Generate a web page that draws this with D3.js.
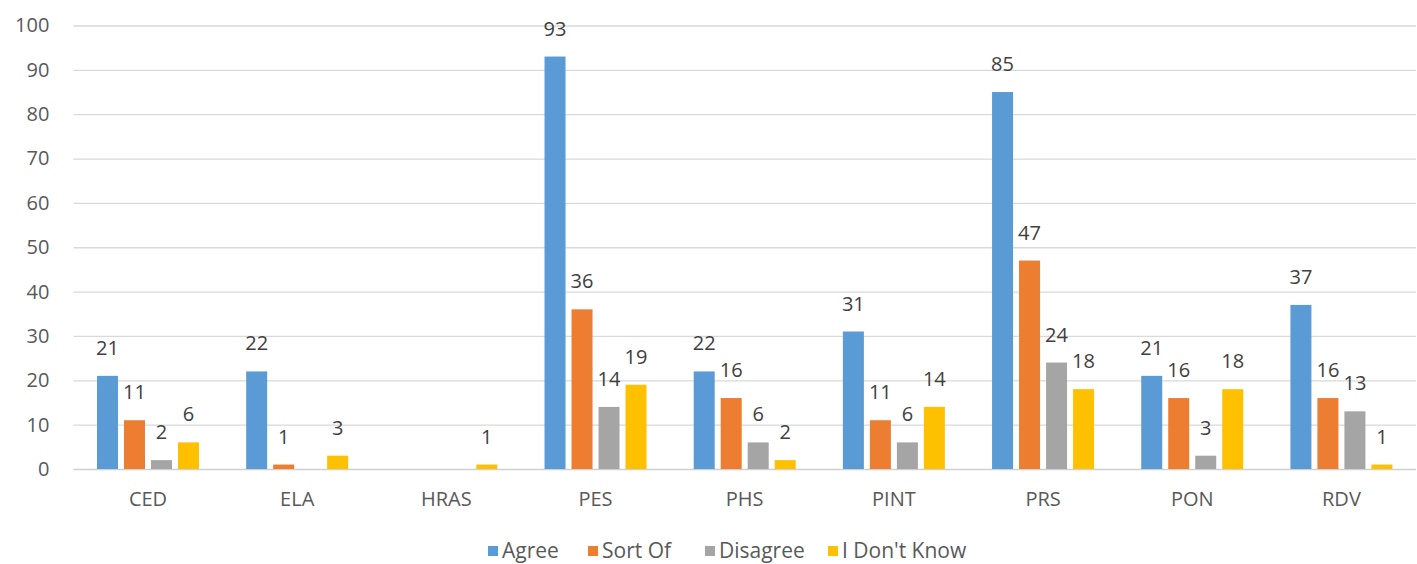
<!DOCTYPE html>
<html>
<head>
<meta charset="utf-8">
<script src="https://cdn.jsdelivr.net/npm/d3@7"></script>
<style>
  html, body { margin: 0; padding: 0; background: #fff; }
  svg { display: block; }
  text { font-family: "Open Sans", "Noto Sans", sans-serif; }
</style>
</head>
<body>
<svg id="chart" width="1417" height="564"></svg>
<script>
// Survey responses per program area
const categories = ["CED", "ELA", "HRAS", "PES", "PHS", "PINT", "PRS", "PON", "RDV"];
const seriesNames = ["Agree", "Sort Of", "Disagree", "I Don't Know"];
const agree     = [21, 22, null, 93, 22, 31, 85, 21, 37];
const sortOf    = [11, 1, null, 36, 16, 11, 47, 16, 16];
const disagree  = [2, null, null, 14, 6, 6, 24, 3, 13];
const dontKnow  = [6, 3, 1, 19, 2, 14, 18, 18, 1];
const yTicks    = [0, 10, 20, 30, 40, 50, 60, 70, 80, 90, 100];
const colors    = ["#5B9BD5", "#ED7D31", "#A5A5A5", "#FFC000"];

const seriesValues = [agree, sortOf, disagree, dontKnow];

const svg = d3.select("#chart");
const plotLeft = 73.4, plotRight = 1416, plotTop = 25.5, plotBottom = 469;

const y = d3.scaleLinear().domain([0, 100]).range([plotBottom, plotTop]);
const x0 = d3.scaleBand().domain(categories).range([plotLeft, plotRight]).padding(0);
const groupW = 102;
const x1 = d3.scaleBand().domain(seriesNames).range([0, groupW]).paddingInner(0.222).paddingOuter(0);
const groupOffset = (x0.bandwidth() - groupW) / 2;

// Horizontal gridlines and value axis labels
const yAxis = d3.axisLeft(y).tickValues(yTicks).tickSize(-(plotRight - plotLeft)).tickPadding(24);
const gy = svg.append("g").attr("transform", `translate(${plotLeft},0)`).call(yAxis);
gy.select(".domain").remove();
gy.selectAll(".tick line").attr("stroke", "#d9d9d9").attr("stroke-width", 1.3);
gy.selectAll(".tick text").attr("fill", "#595959").attr("font-size", 20);
gy.selectAll(".tick").filter(d => d === 0).select("line").attr("stroke", "#d0d0d0");

// Category axis labels
const xAxis = d3.axisBottom(x0).tickSize(0).tickPadding(23);
const gx = svg.append("g").attr("transform", `translate(0,${plotBottom})`).call(xAxis);
gx.select(".domain").remove();
gx.selectAll(".tick text").attr("fill", "#595959").attr("font-size", 20);

// Bars and value labels
const rows = [];
categories.forEach((c, i) => {
  seriesNames.forEach((s, j) => {
    const v = seriesValues[j][i];
    if (v != null) rows.push({ cat: c, series: s, idx: j, value: v });
  });
});

const bx = d => x0(d.cat) + groupOffset + x1(d.series);

svg.append("g").selectAll("rect").data(rows).join("rect")
  .attr("x", bx)
  .attr("y", d => y(d.value))
  .attr("width", x1.bandwidth())
  .attr("height", d => y(0) - y(d.value))
  .attr("fill", d => colors[d.idx]);

svg.append("g").selectAll("text").data(rows).join("text")
  .attr("x", d => bx(d) + x1.bandwidth() / 2)
  .attr("y", d => y(d.value) - 21)
  .attr("text-anchor", "middle")
  .attr("fill", "#404040")
  .attr("font-size", 20)
  .text(d => d.value);

// Legend
const legendX = [502, 602, 719, 842];
const legend = svg.append("g");
seriesNames.forEach((s, j) => {
  legend.append("rect")
    .attr("x", legendX[j] - 14).attr("y", 546)
    .attr("width", 10).attr("height", 10)
    .attr("fill", colors[j]);
  legend.append("text")
    .attr("x", legendX[j]).attr("y", 558)
    .attr("fill", "#595959")
    .attr("font-size", 21)
    .text(s);
});
</script>
</body>
</html>
